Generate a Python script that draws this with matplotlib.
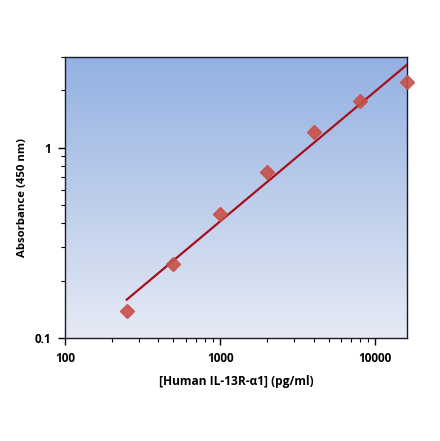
import matplotlib

matplotlib.use("Agg")
import matplotlib.pyplot as plt
import numpy as np
from matplotlib.colors import LinearSegmentedColormap
from matplotlib.ticker import FixedLocator, LogLocator, NullFormatter

plt.rcParams["font.family"] = ["Open Sans", "DejaVu Sans"]

# standard curve data
conc = [250, 500, 1000, 2000, 4000, 8000, 16000]
absorb = [0.138, 0.245, 0.451, 0.750, 1.206, 1.77, 2.22]

x_ticks = [100, 1000, 10000]
x_tick_labels = ["100", "1000", "10000"]
y_ticks = [0.1, 1]
y_tick_labels = ["0.1", "1"]

# power-law fit (straight line in log-log)
slope, icept = np.polyfit(np.log10(conc), np.log10(absorb), 1)
fit_x = np.array([conc[0], conc[-1]])
fit_y = 10 ** (icept + slope * np.log10(fit_x))

fig = plt.figure(figsize=(4.4, 4.41), dpi=100)
ax = fig.add_axes([65 / 440, 103 / 441, 342 / 440, 281 / 441])

# blue gradient background
cmap = LinearSegmentedColormap.from_list("bg", ["#e6eaf4", "#93b1e2"])
grad = np.linspace(0, 1, 256).reshape(-1, 1)
ax.imshow(grad, cmap=cmap, aspect="auto", origin="lower",
          extent=[0, 1, 0, 1], transform=ax.transAxes, zorder=0)

ax.plot(fit_x, fit_y, color="#a5101f", linewidth=1.6, zorder=2)
ax.plot(conc, absorb, linestyle="none", marker="D", markersize=7,
        color="#c8504a", markeredgecolor="#c8504a", alpha=0.9, zorder=3,
        clip_on=False)

ax.set_xscale("log")
ax.set_yscale("log")
ax.set_xlim(100, 16000)
ax.set_ylim(0.1, 3)

ax.xaxis.set_major_locator(FixedLocator(x_ticks))
ax.set_xticklabels(x_tick_labels)
ax.yaxis.set_major_locator(FixedLocator(y_ticks))
ax.set_yticklabels(y_tick_labels)
ax.xaxis.set_minor_locator(LogLocator(base=10, subs=np.arange(2, 10)))
ax.yaxis.set_minor_locator(LogLocator(base=10, subs=np.arange(2, 10)))
ax.xaxis.set_minor_formatter(NullFormatter())
ax.yaxis.set_minor_formatter(NullFormatter())

ax.tick_params(which="major", direction="out", length=5, width=1,
               labelsize=8.5, pad=5)
ax.tick_params(which="minor", direction="out", length=3, width=0.8)
for lab in ax.get_xticklabels() + ax.get_yticklabels():
    lab.set_fontweight("bold")

for s in ax.spines.values():
    s.set_color("#1a1a2a")
    s.set_linewidth(1.0)

ax.set_xlabel("[Human IL-13R-\u03b11] (pg/ml)", fontsize=8.6, fontweight="bold",
              labelpad=7)
ax.set_ylabel("Absorbance (450 nm)", fontsize=8.2, fontweight="bold",
              labelpad=5)

fig.savefig("out.png", dpi=100)
